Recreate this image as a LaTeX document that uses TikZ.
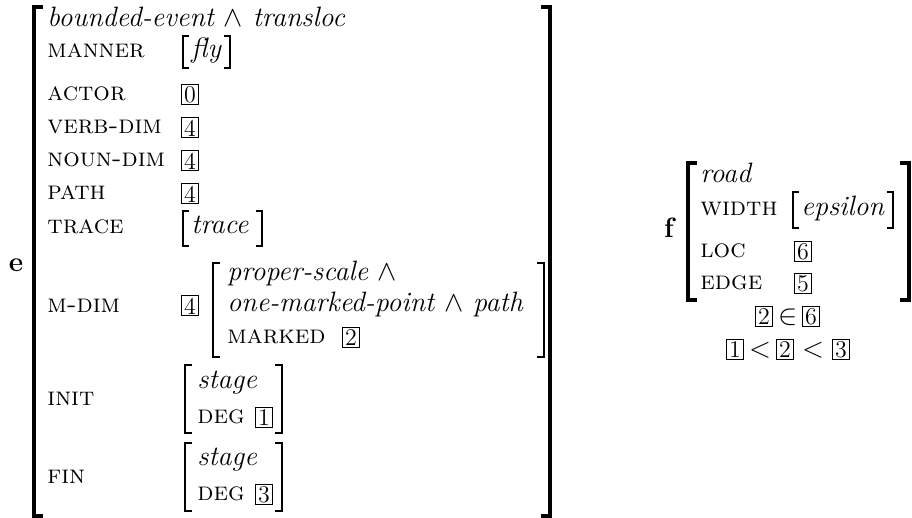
\documentclass[tikz,border=0pt]{standalone}
\usepackage{amsmath, amssymb}
\usepackage{tikz}

\newcommand{\avmsize}{\fontsize{14}{16}\selectfont}
\newcommand{\attrsize}{\fontsize{13}{15}\selectfont}
\newcommand{\tagsize}{\fontsize{12}{14}\selectfont}
\tikzset{
  attr/.style={anchor=west, inner sep=0pt, text height=0.55em, text depth=0pt, font=\attrsize\scshape},
  val/.style={anchor=west, inner sep=0pt, text height=0.55em, text depth=0pt, font=\avmsize\itshape},
  tag/.style={draw, line width=0.5pt, inner sep=0pt, minimum width=8.8pt, minimum height=10pt, font=\tagsize},
  rel/.style={inner sep=0pt, font=\avmsize},
  label/.style={font=\avmsize\bfseries},
  brk/.style={line width=1.1pt},
  bigbrk/.style={line width=1.6pt},
}
% brackets: style, left x, right x, top y, bottom y, tick
\newcommand{\avmbrackets}[6]{%
  \draw[#1] (#2,#4) ++(#6,0) -- ++(-#6,0) -- (#2,#5) -- ++(#6,0);
  \draw[#1] (#3,#4) ++(-#6,0) -- ++(#6,0) -- (#3,#5) -- ++(-#6,0);
}

\begin{document}
\begin{tikzpicture}[x=0.5pt, y=-0.5pt]
  \useasboundingbox (0,0) rectangle (912,518);
  % Matrise e
  \node[label] (e) at (16,265) {e};
  \avmbrackets{bigbrk}{34}{550}{7}{516}{9}
  \node[val] (etype) at (47,21) {bounded-event $\wedge$ transloc};
  \node[attr] (manner) at (47,52) {manner};
  \node[val] (fly) at (191,52) {fly};
  \avmbrackets{brk}{183}{230}{36}{68}{6}
  \node[attr] (actor) at (47,95) {actor};
  \node[tag] (t0) at (190,95) {0};
  \foreach \y/\lab/\nm in {128/verb-dim/vdim, 161/noun-dim/ndim, 194/path/path}{
    \node[attr] (\nm) at (47,\y) {\lab};
    \node[tag] (t4\nm) at (190,\y) {4};
  }
  \node[attr] (tracel) at (47,228) {trace};
  \node[val] (trace) at (191,228) {trace};
  \avmbrackets{brk}{183}{262}{211}{246}{6}
  % M-DIM med indre matrise
  \node[attr] (mdim) at (47,307) {m-dim};
  \node[tag] (t4m) at (190,306) {4};
  \avmbrackets{brk}{213}{544}{263}{357}{7}
  \node[val] (scale) at (227,275) {proper-scale $\wedge$};
  \node[val] (omp) at (227,306) {one-marked-point $\wedge$ path};
  \node[attr] (marked) at (227,338) {marked};
  \node[tag] (t2m) at (351,338) {2};
  % INIT og FIN
  \node[attr] (init) at (47,400) {init};
  \avmbrackets{brk}{185}{282}{365}{433}{7}
  \node[val] (stagei) at (197,383) {stage};
  \node[attr] (degi) at (197,418) {deg};
  \node[tag] (t1) at (264,418) {1};
  \node[attr] (fin) at (47,478) {fin};
  \avmbrackets{brk}{185}{282}{443}{511}{7}
  \node[val] (stagef) at (197,460) {stage};
  \node[attr] (degf) at (197,495) {deg};
  \node[tag] (t3) at (264,495) {3};
  % Matrise f
  \node[label] (f) at (669,228) {f};
  \avmbrackets{bigbrk}{688}{909}{163}{300}{9}
  \node[val] (road) at (700,177) {road};
  \node[attr] (width) at (700,210) {width};
  \node[val] (eps) at (801,210) {epsilon};
  \avmbrackets{brk}{793}{893}{192}{228}{6}
  \node[attr] (loc) at (700,252) {loc};
  \node[tag] (t6) at (803,252) {6};
  \node[attr] (edge) at (700,284) {edge};
  \node[tag] (t5) at (803,284) {5};
  % Relasjoner
  \node[tag] (m2) at (764,317) {2};
  \node[rel] (in) at (788,317) {$\in$};
  \node[tag] (m6) at (811,317) {6};
  \node[tag] (o1) at (735,350) {1};
  \node[rel] (lt1) at (760,350) {$<$};
  \node[tag] (o2) at (785,350) {2};
  \node[rel] (lt2) at (813,350) {$<$};
  \node[tag] (o3) at (841,350) {3};
\end{tikzpicture}
\end{document}
